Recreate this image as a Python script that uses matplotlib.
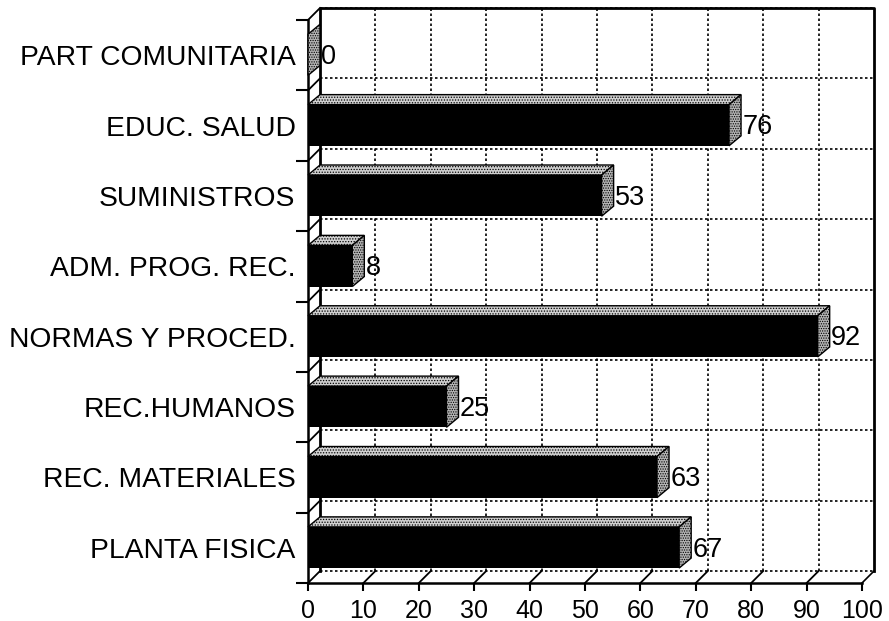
import numpy as np
import matplotlib
matplotlib.use('Agg')
import matplotlib.pyplot as plt
from matplotlib.patches import Polygon

plt.rcParams['font.family'] = ['Liberation Sans', 'DejaVu Sans']
plt.rcParams['hatch.linewidth'] = 0.6

categorias = ['PLANTA FISICA', 'REC. MATERIALES', 'REC.HUMANOS', 'NORMAS Y PROCED.',
              'ADM. PROG. REC.', 'SUMINISTROS', 'EDUC. SALUD', 'PART COMUNITARIA']
valores = [67, 63, 25, 92, 8, 53, 76, 0]
ticks_x = np.arange(0, 101, 10)

W, H = 889, 621
fig = plt.figure(figsize=(W / 100, H / 100), dpi=100)
ax = fig.add_axes([308 / W, 1 - 583 / H, 554 / W, 563 / H])
ax.set_xlim(0, 100)
ax.set_ylim(0, len(categorias))

# profundidad del efecto 3D en unidades de los ejes
dx = 12 / 5.54
dy = 12 / 70.4
bar_h = 0.585
bar_dx = 12 / 5.54
bar_dy = 10 / 70.4
n = len(categorias)

# pared del fondo
for x in ticks_x[1:-1]:
    ax.plot([x + dx, x + dx], [dy, n + dy], color='k', lw=1.2, ls=(0, (1.5, 1.5)), zorder=1, clip_on=False)
for y in range(0, n + 1):
    ax.plot([dx, 100 + dx], [y + dy, y + dy], color='k', lw=1.2, ls=(0, (1.5, 1.5)), zorder=1, clip_on=False)

# marco
ax.plot([dx, dx, 100 + dx, 100 + dx], [dy, n + dy, n + dy, dy], color='k', lw=2, zorder=2, clip_on=False)
ax.plot([100, 100 + dx], [0, dy], color='k', lw=1.2, zorder=2, clip_on=False)
for x in ticks_x[:-1]:
    ax.plot([x, x + dx], [0, dy], color='k', lw=1.3, zorder=2, clip_on=False)
for y in range(1, n + 1):
    ax.plot([0, dx], [y, y + dy], color='k', lw=1.3, zorder=2, clip_on=False)

# barras
for i, v in enumerate(valores):
    yc = i + 0.505
    y0 = yc - bar_h / 2
    y1 = yc + bar_h / 2
    if v > 0:
        ax.add_patch(Polygon([(0, y1), (bar_dx, y1 + bar_dy), (v + bar_dx, y1 + bar_dy), (v, y1)],
                             facecolor='#d0d0d0', edgecolor='k', lw=1, hatch='......', zorder=3, clip_on=False))
        ax.barh(yc, v, height=bar_h, color='k', zorder=4, clip_on=False)
    ax.add_patch(Polygon([(v, y0), (v + bar_dx, y0 + bar_dy), (v + bar_dx, y1 + bar_dy), (v, y1)],
                         facecolor='#b4b4b4', edgecolor='k', lw=1, hatch='.......', zorder=4, clip_on=False))
    ax.text(v + bar_dx + 0.2, i + 0.475, str(v), fontsize=19.5, va='center', ha='left', zorder=5)

# ejes
ax.spines[['top', 'right']].set_visible(False)
ax.spines['left'].set_linewidth(1.8)
ax.spines['bottom'].set_linewidth(1.8)
ax.set_xticks(ticks_x)
ax.tick_params(axis='x', length=5.8, width=1.5, labelsize=18, pad=5.5)
ax.set_yticks(np.arange(n + 1))
ax.set_yticklabels([])
ax.tick_params(axis='y', which='major', length=8.6, width=1.5)
ax.set_yticks(np.arange(n) + 0.5, labels=categorias, minor=True)
ax.tick_params(axis='y', which='minor', length=0, labelsize=20.3, pad=9)

fig.savefig('out.png', dpi=100)
